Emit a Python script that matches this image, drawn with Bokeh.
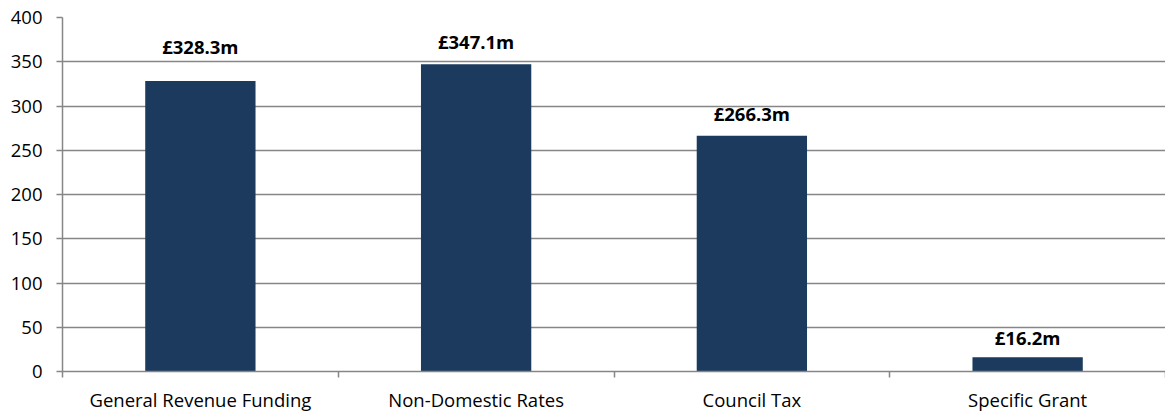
from bokeh.plotting import figure
from bokeh.models import ColumnDataSource, FixedTicker, Range1d
from bokeh.embed import file_html
from bokeh.resources import INLINE
from bokeh.core.properties import value

categories = ["General Revenue Funding", "Non-Domestic Rates", "Council Tax", "Specific Grant"]
amounts = [328.3, 347.1, 266.3, 16.2]
labels = ["£328.3m", "£347.1m", "£266.3m", "£16.2m"]
y_ticks = [0, 50, 100, 150, 200, 250, 300, 350, 400]

# style: pixel gap between bar top and label baseline
label_gap_px = [34, 23, 22, 20]

FONT = "Open Sans"
GRID = "#868686"
FS = "18.5px"

positions = [i + 0.5 for i in range(len(categories))]
boundaries = [float(i) for i in range(len(categories) + 1)]

src = ColumnDataSource(dict(
    x=positions, top=amounts, label=labels,
    yoff=[-g for g in label_gap_px],
))

p = figure(width=1165, height=414,
           x_range=Range1d(0, len(categories)), y_range=Range1d(0, 400),
           output_backend="svg", toolbar_location=None,
           min_border_left=62, min_border_right=0,
           min_border_top=17, min_border_bottom=43)

p.vbar(x="x", top="top", width=0.4, source=src,
       fill_color="#1b3a5e", line_color=None)

p.text(x="x", y="top", text="label", y_offset="yoff", source=src,
       text_align="center", text_baseline="alphabetic",
       text_font=value(FONT), text_font_style="bold",
       text_font_size=FS, text_color="#000000")

p.outline_line_color = None
p.xgrid.grid_line_color = None
p.ygrid.grid_line_color = GRID
p.ygrid.grid_line_width = 1.5

p.xaxis.ticker = FixedTicker(ticks=positions, minor_ticks=boundaries)
p.xaxis.major_label_overrides = {pos: cat for pos, cat in zip(positions, categories)}
p.xaxis.major_tick_in = 0
p.xaxis.major_tick_out = 0
p.xaxis.minor_tick_in = 0
p.xaxis.minor_tick_out = 6
p.xaxis.minor_tick_line_color = GRID
p.xaxis.minor_tick_line_width = 1.5
p.xaxis.axis_line_color = GRID
p.xaxis.axis_line_width = 1.5
p.xaxis.major_label_standoff = 9

p.yaxis.ticker = FixedTicker(ticks=y_ticks)
p.yaxis.major_tick_in = 0
p.yaxis.major_tick_out = 6
p.yaxis.major_tick_line_color = GRID
p.yaxis.major_tick_line_width = 1.5
p.yaxis.minor_tick_line_color = None
p.yaxis.axis_line_color = GRID
p.yaxis.axis_line_width = 1.5
p.yaxis.major_label_standoff = 14

for ax in (p.xaxis[0], p.yaxis[0]):
    ax.major_label_text_font = FONT
    ax.major_label_text_font_size = FS
    ax.major_label_text_color = "#000000"

p.background_fill_color = "white"
p.border_fill_color = "white"

open("out.html", "w").write(file_html(p, INLINE))
